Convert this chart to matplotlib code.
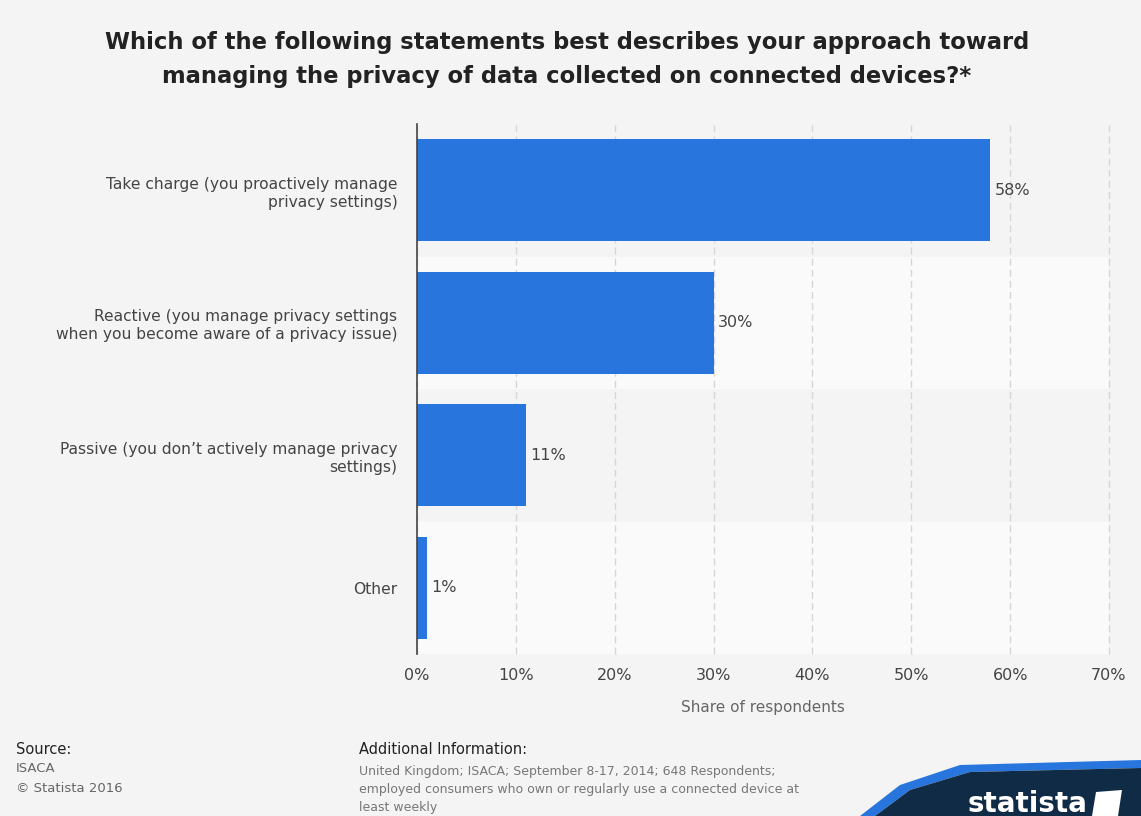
import matplotlib
matplotlib.use("Agg")
import matplotlib.pyplot as plt
from matplotlib.patches import Polygon

categories = ["Take charge (you proactively manage\nprivacy settings)",
              "Reactive (you manage privacy settings\nwhen you become aware of a privacy issue)",
              "Passive (you don’t actively manage privacy\nsettings)",
              "Other"]
values = [58, 30, 11, 1]
xticks = [0, 10, 20, 30, 40, 50, 60, 70]

BG = "#f4f4f4"
BAR = "#2876dd"
TXT = "#444444"

fig = plt.figure(figsize=(11.41, 8.16), dpi=100, facecolor=BG)
ax = fig.add_axes([417/1141, 1-654/816, (1109-417)/1141, (654-124)/816])
ax.set_facecolor(BG)

n = len(categories)
ys = list(range(n))
for i in ys:
    if i % 2 == 1:
        ax.axhspan(i-0.5, i+0.5, color="#fafafa", zorder=0, lw=0)

ax.barh(ys, values, height=0.77, color=BAR, zorder=3)
for y, v in zip(ys, values):
    ax.text(v + 0.45, y, f"{v}%", va="center", ha="left", fontsize=11.5, color=TXT, zorder=4)

ax.set_ylim(n-0.5, -0.5)
ax.set_xlim(0, 70)
ax.set_xticks(xticks)
ax.set_xticklabels([f"{t}%" for t in xticks], fontsize=11.5, color=TXT)
ax.set_yticks(ys)
ax.set_yticklabels(categories, fontsize=11.2, color=TXT, ha="right", multialignment="right",
                   linespacing=1.25)
ax.tick_params(axis="both", length=0)
ax.tick_params(axis="y", pad=14)
ax.tick_params(axis="x", pad=10)
ax.xaxis.grid(True, linestyle=(0, (5, 3)), color="#d6d6d6", lw=1, zorder=1)
for gl in ax.get_xgridlines():
    gl.set_clip_on(False)
ax.set_axisbelow(True)
for s in ["top", "right", "bottom"]:
    ax.spines[s].set_visible(False)
ax.spines["left"].set_color("#444444")
ax.spines["left"].set_linewidth(1.2)
ax.spines["left"].set_zorder(5)
ax.set_xlabel("Share of respondents", fontsize=11, color="#666666", labelpad=12)

fig.text(567/1141, 1-42/816, "Which of the following statements best describes your approach toward",
         ha="center", va="center", fontsize=16.3, fontweight="bold", color="#222222")
fig.text(567/1141, 1-77/816, "managing the privacy of data collected on connected devices?*",
         ha="center", va="center", fontsize=16.3, fontweight="bold", color="#222222")

# footer
fig.text(16/1141, 1-749/816, "Source:", fontsize=10.5, color="#222222", va="center")
fig.text(16/1141, 1-769/816, "ISACA", fontsize=9.5, color="#666666", va="center")
fig.text(16/1141, 1-788/816, "© Statista 2016", fontsize=9.5, color="#666666", va="center")
fig.text(359/1141, 1-749/816, "Additional Information:", fontsize=10.5, color="#222222", va="center")
fig.text(359/1141, 1-771/816, "United Kingdom; ISACA; September 8-17, 2014; 648 Respondents;",
         fontsize=9, color="#777777", va="center")
fig.text(359/1141, 1-789/816, "employed consumers who own or regularly use a connected device at",
         fontsize=9, color="#777777", va="center")
fig.text(359/1141, 1-807/816, "least weekly", fontsize=9, color="#777777", va="center")

# logo approximation
W, H = 1141, 816
def P(x, y):
    return (x / W, 1 - y / H)
blue = Polygon([P(860, 816), P(900, 785), P(960, 765), P(1141, 760), P(1141, 768),
                P(970, 772), P(910, 790), P(875, 816)], closed=True,
               transform=fig.transFigure, color="#2876dd", lw=0)
navy = Polygon([P(875, 816), P(910, 790), P(970, 772), P(1141, 768), P(1141, 816)], closed=True,
               transform=fig.transFigure, color="#0f2b46", lw=0)
fig.patches.extend([blue, navy])
fig.text(1028/1141, 1-804/816, "statista", fontsize=20, fontweight="bold", color="white",
         ha="center", va="center")
fig.patches.append(Polygon([P(1092, 816), P(1096, 792), P(1122, 790), P(1118, 816)], closed=True,
                           transform=fig.transFigure, color="white", lw=0))

fig.savefig("out.png", dpi=100, facecolor=BG)
